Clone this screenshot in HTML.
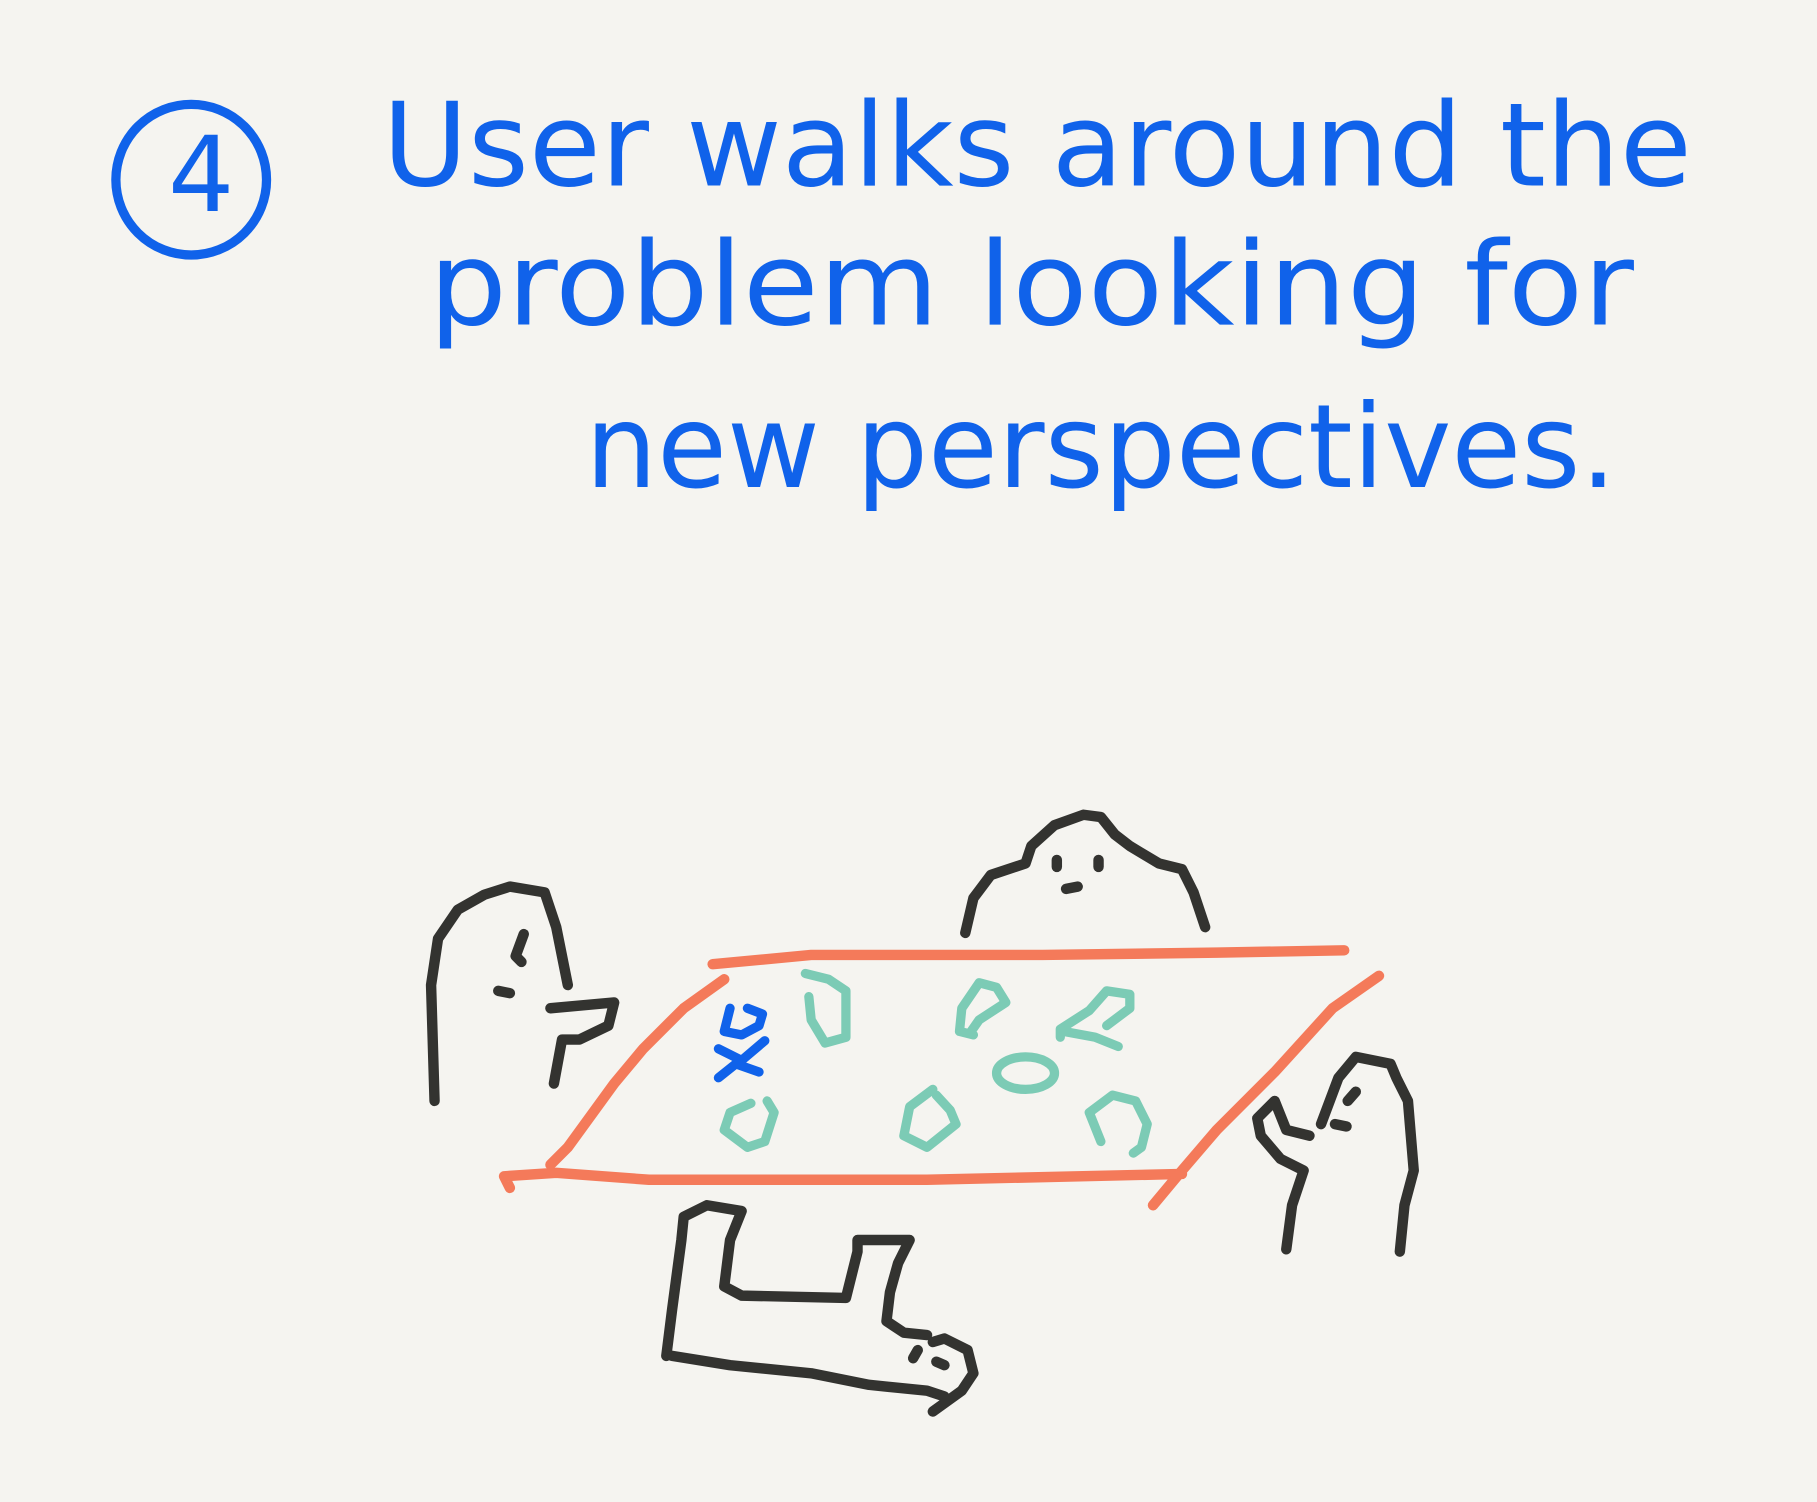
<!DOCTYPE html>
<html><head><meta charset="utf-8"><style>
html,body{margin:0;padding:0;background:#f5f4f0;}
svg{display:block}
</style></head><body>
<svg width="1817" height="1502" viewBox="0 0 1568 1296" xmlns="http://www.w3.org/2000/svg">
<rect width="1568" height="1296" fill="#f5f4f0"/>
<g fill="none" stroke-linecap="round" stroke-linejoin="round">
<circle cx="165" cy="155" r="65" stroke="#1062ea" stroke-width="8"/>
</g>
<g font-family="'DejaVu Sans', 'Liberation Sans', sans-serif" font-weight="normal" fill="#1062ea">
<text x="145" y="182" font-size="90">4</text>
<text x="330" y="160" font-size="100" textLength="1130" lengthAdjust="spacingAndGlyphs">User walks around the</text>
<text x="370" y="280" font-size="100" textLength="1040" lengthAdjust="spacingAndGlyphs">problem looking for</text>
<text x="505" y="420" font-size="100" textLength="890" lengthAdjust="spacingAndGlyphs">new perspectives.</text>
</g>
<g fill="none" stroke="#f47a5a" stroke-width="9" stroke-linecap="round" stroke-linejoin="round">
<polyline points="615,832 700,824 900,824 1050,822 1160,820"/>
<polyline points="625,845 590,870 555,905 530,935 490,990 475,1005"/>
<polyline points="440,1025 435,1015 480,1012 560,1018 800,1018 1020,1013"/>
<polyline points="1190,842 1150,870 1100,925 1050,975 1020,1010 995,1040"/>
</g>
<g fill="none" stroke="#333330" stroke-width="9" stroke-linecap="round" stroke-linejoin="round">
<g>
<polyline points="833,805 840,775 855,755 885,745 890,730 910,712 935,703 950,705 962,720 975,730 1000,745 1020,750 1030,770 1040,800"/>
<line x1="912" y1="742" x2="912" y2="748"/><line x1="948" y1="742" x2="948" y2="748"/>
<line x1="920" y1="767" x2="930" y2="765"/>
</g>
<g>
<polyline points="375,950 372,850 378,810 395,785 418,772 440,765 470,770 480,800 490,850"/>
<polyline points="452,806 445,825 450,830"/><line x1="430" y1="855" x2="440" y2="857"/>
<polyline points="475,870 530,865 525,885 500,897 485,897 478,935"/>
</g>
<g>
<polyline points="1110,1078 1115,1040 1125,1010 1105,1000 1088,980 1085,965 1100,950 1110,975 1130,980"/>
<polyline points="1140,970 1155,930 1170,912 1200,918 1205,930 1215,950 1220,1010 1212,1040 1208,1080"/>
<line x1="1163" y1="950" x2="1170" y2="942"/><line x1="1152" y1="970" x2="1162" y2="972"/>
</g>
<g>
<polyline points="575,1170 580,1130 588,1070 590,1050 610,1040 640,1045 630,1070 625,1110 640,1118 730,1120 740,1080 740,1070 785,1070 775,1090 768,1115 765,1140 780,1150 800,1152"/>
<polyline points="580,1170 630,1178 700,1185 750,1195 800,1200 815,1205"/>
<polyline points="805,1218 830,1200 840,1185 835,1165 815,1155 805,1158"/>
<line x1="788" y1="1172" x2="792" y2="1165"/><line x1="808" y1="1175" x2="815" y2="1178"/>
</g>
</g>
<g fill="none" stroke="#7ccbb5" stroke-width="8" stroke-linecap="round" stroke-linejoin="round">
<polyline points="695,840 715,845 730,855 730,895 712,900 700,880 698,860"/>
<polyline points="840,893 828,890 830,870 845,848 860,852 868,865 845,880 838,890"/>
<polyline points="915,895 915,888 940,872 955,855 975,858 975,870 955,885"/>
<polyline points="918,890 945,895 965,903"/>
<ellipse cx="885" cy="926" rx="25" ry="14"/>
<polyline points="805,940 785,955 780,980 800,990 825,970 820,958 808,945"/>
<polyline points="950,985 940,960 960,945 980,950 990,970 985,990 978,995"/>
<polyline points="648,952 630,960 625,975 645,990 660,985 668,960 662,950"/>
</g>
<g fill="none" stroke="#1062ea" stroke-width="8" stroke-linecap="round" stroke-linejoin="round">
<polyline points="630,870 625,890 640,893 655,885 658,875 645,870"/>
<polyline points="620,905 640,915 660,898"/>
<polyline points="620,930 635,918 655,925"/>
</g>
</svg>
</body></html>
